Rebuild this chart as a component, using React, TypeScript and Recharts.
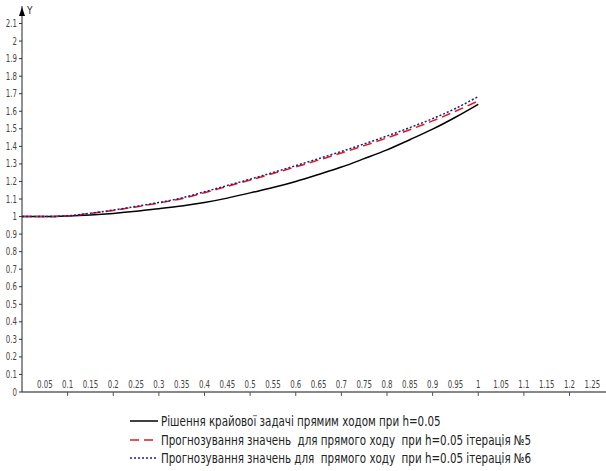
import { LineChart, Line, XAxis, YAxis } from "recharts";

const xValues = [0, 0.05, 0.1, 0.15, 0.2, 0.25, 0.3, 0.35, 0.4, 0.45, 0.5, 0.55, 0.6, 0.65, 0.7, 0.75, 0.8, 0.85, 0.9, 0.95, 1.0];
const exactSolution = [1.0, 1.0, 1.003, 1.009, 1.018, 1.03, 1.045, 1.06, 1.08, 1.105, 1.135, 1.165, 1.2, 1.24, 1.282, 1.33, 1.38, 1.438, 1.498, 1.566, 1.64];
const iteration5 = [1.0, 1.0, 1.004, 1.018, 1.035, 1.055, 1.077, 1.102, 1.136, 1.172, 1.208, 1.245, 1.283, 1.322, 1.362, 1.404, 1.448, 1.495, 1.545, 1.6, 1.659];
const iteration6 = [1.0, 1.0, 1.004, 1.019, 1.037, 1.058, 1.08, 1.106, 1.141, 1.177, 1.213, 1.251, 1.29, 1.33, 1.371, 1.414, 1.459, 1.507, 1.558, 1.616, 1.684];

const xTicks = [0.05, 0.1, 0.15, 0.2, 0.25, 0.3, 0.35, 0.4, 0.45, 0.5, 0.55, 0.6, 0.65, 0.7, 0.75, 0.8, 0.85, 0.9, 0.95, 1, 1.05, 1.1, 1.15, 1.2, 1.25];
const yTicks = [0, 0.1, 0.2, 0.3, 0.4, 0.5, 0.6, 0.7, 0.8, 0.9, 1, 1.1, 1.2, 1.3, 1.4, 1.5, 1.6, 1.7, 1.8, 1.9, 2, 2.1];

const legendItems = [
  { name: "Рішення крайової задачі прямим ходом при h=0.05", color: "#000000", dash: "" },
  { name: "Прогнозування значень  для прямого ходу  при h=0.05 ітерація №5", color: "#e01b1b", dash: "9 5" },
  { name: "Прогнозування значень для  прямого ходу  при h=0.05 ітерація №6", color: "#1c1c8a", dash: "2 2" },
];

const data = xValues.map((x, i) => ({
  x,
  exact: exactSolution[i],
  it5: iteration5[i],
  it6: iteration6[i],
}));

const FONT = "'DejaVu Sans Condensed', 'Liberation Sans', sans-serif";

// labels sit above the axis line, tick marks only every 0.1 below it
const XTick = (props: any) => {
  const { x, y, payload } = props;
  const v = payload.value;
  const major = Math.abs(v * 10 - Math.round(v * 10)) < 1e-6;
  return (
    <g>
      {major && <line x1={x} x2={x} y1={y} y2={y + 4} stroke="#555" />}
      <text
        transform={`translate(${x},${y - 4}) scale(0.78,1.05)`}
        textAnchor="middle"
        fontSize={10}
        fill="#444"
        fontFamily={FONT}
      >
        {String(v)}
      </text>
    </g>
  );
};

const YTick = (props: any) => {
  const { x, y, payload } = props;
  return (
    <text
      transform={`translate(${x},${y + 3.5}) scale(0.78,1.05)`}
      textAnchor="end"
      fontSize={10}
      fill="#444"
      fontFamily={FONT}
    >
      {String(payload.value)}
    </text>
  );
};

const YArrow = (props: any) => {
  const vb = props.viewBox || {};
  const ax = (vb.x || 0) + (vb.width || 0);
  const top = vb.y || 0;
  return (
    <g>
      <polygon points={`${ax - 3},${top + 10} ${ax + 3},${top + 10} ${ax},${top + 1}`} fill="#000" />
      <text x={ax + 5} y={top + 8} fontSize={10} fill="#333" fontFamily={FONT}>
        Y
      </text>
    </g>
  );
};

export default function App() {
  return (
    <div style={{ position: "absolute", left: 0, top: 0, width: 606, height: 471, background: "#fff" }}>
      <LineChart width={606} height={471} data={data} margin={{ top: 6, right: 0, left: 0, bottom: 0 }}>
        <XAxis
          dataKey="x"
          type="number"
          domain={[0, 1.28]}
          ticks={xTicks}
          interval={0}
          tick={<XTick />}
          tickSize={0}
          tickMargin={0}
          tickLine={false}
          height={79}
          axisLine={{ stroke: "#888", strokeWidth: 2 }}
          allowDataOverflow
        />
        <YAxis
          type="number"
          domain={[0, 2.2]}
          ticks={yTicks}
          width={22}
          tickSize={3}
          tickMargin={2}
          tick={<YTick />}
          tickLine={{ stroke: "#333" }}
          axisLine={{ stroke: "#222" }}
          interval={0}
          allowDataOverflow
          label={{ content: <YArrow /> }}
        />
        <Line type="monotone" dataKey="exact" stroke="#000" strokeWidth={1.5} dot={false} isAnimationActive={false} />
        <Line type="monotone" dataKey="it5" stroke="#e01b1b" strokeWidth={1.5} strokeDasharray="9 5" dot={false} isAnimationActive={false} />
        <Line type="monotone" dataKey="it6" stroke="#1c1c8a" strokeWidth={1.5} strokeDasharray="2 2" dot={false} isAnimationActive={false} />
      </LineChart>
      <div style={{ position: "absolute", left: 130, top: 412, fontFamily: FONT, fontSize: 13.5, color: "#222" }}>
        {legendItems.map((item) => (
          <div key={item.name} style={{ display: "flex", alignItems: "center", height: 18.5, whiteSpace: "pre" }}>
            <svg width={30} height={10} style={{ marginRight: 1, flex: "none" }}>
              <line x1={0} x2={28} y1={5} y2={5} stroke={item.color} strokeWidth={1.5} strokeDasharray={item.dash} />
            </svg>
            <span style={{ display: "inline-block", transform: "scaleX(0.85)", transformOrigin: "left center" }}>
              {item.name}
            </span>
          </div>
        ))}
      </div>
    </div>
  );
}
